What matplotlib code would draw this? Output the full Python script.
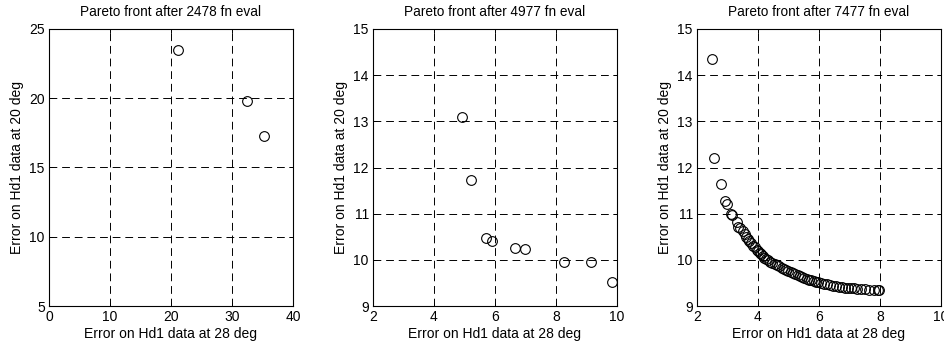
import numpy as np
import matplotlib.pyplot as plt

plt.rcParams['font.family'] = ['Liberation Sans', 'DejaVu Sans']
plt.rcParams['font.size'] = 10

# Pareto fronts at three stages of the optimisation
titles = ['Pareto front after 2478 fn eval',
          'Pareto front after 4977 fn eval',
          'Pareto front after 7477 fn eval']

x1 = [21.2, 32.5, 35.2]
y1 = [23.45, 19.8, 17.3]

x2 = [4.92, 5.2, 5.7, 5.9, 6.65, 6.97, 8.25, 9.15, 9.82]
y2 = [13.1, 11.72, 10.48, 10.4, 10.25, 10.23, 9.95, 9.95, 9.53]

x3 = [2.5, 2.57, 2.8, 2.92, 2.97, 3.1, 3.15, 3.3, 3.35, 3.4, 3.5, 3.57,
      3.62, 3.68, 3.72, 3.78, 3.85, 3.9, 3.96, 4.0, 4.05, 4.1, 4.15, 4.2,
      4.27, 4.33, 4.4, 4.47, 4.55, 4.62, 4.7, 4.78, 4.85, 4.93, 5.0, 5.08,
      5.15, 5.22, 5.3, 5.37, 5.45, 5.52, 5.6, 5.68, 5.75, 5.83, 5.9, 5.98,
      6.05, 6.15, 6.25, 6.35, 6.45, 6.55, 6.65, 6.75, 6.85, 6.95, 7.05,
      7.15, 7.25, 7.38, 7.5, 7.65, 7.8, 7.92, 7.98]
y3 = [14.35, 12.2, 11.65, 11.27, 11.22, 11.0, 10.98, 10.83, 10.72, 10.7,
      10.62, 10.56, 10.5, 10.45, 10.4, 10.37, 10.31, 10.27, 10.22, 10.19,
      10.15, 10.12, 10.08, 10.05, 10.02, 9.99, 9.96, 9.93, 9.91, 9.88,
      9.86, 9.83, 9.81, 9.78, 9.76, 9.73, 9.71, 9.69, 9.67, 9.65, 9.63,
      9.61, 9.59, 9.57, 9.56, 9.54, 9.53, 9.51, 9.5, 9.48, 9.47, 9.45,
      9.44, 9.43, 9.42, 9.41, 9.4, 9.39, 9.38, 9.38, 9.37, 9.36, 9.36,
      9.35, 9.35, 9.34, 9.34]

xs = [x1, x2, x3]
ys = [y1, y2, y3]
xlims = [(0, 40), (2, 10), (2, 10)]
ylims = [(5, 25), (9, 15), (9, 15)]
xticks = [[0, 10, 20, 30, 40], [2, 4, 6, 8, 10], [2, 4, 6, 8, 10]]
yticks = [[5, 10, 15, 20, 25], [9, 10, 11, 12, 13, 14, 15], [9, 10, 11, 12, 13, 14, 15]]

fig = plt.figure(figsize=(9.45, 3.45), dpi=100)
lefts = [49 / 945, 373 / 945, 697 / 945]

for i in range(3):
    ax = fig.add_axes([lefts[i], 39 / 345, 244 / 945, 277 / 345])
    ax.plot(xs[i], ys[i], 'o', mfc='none', mec='black', ms=7, mew=0.8)
    ax.set_xlim(xlims[i])
    ax.set_ylim(ylims[i])
    ax.set_xticks(xticks[i])
    ax.set_yticks(yticks[i])
    ax.grid(True, color='black', linestyle=(0, (8, 5)), linewidth=0.7)
    ax.tick_params(direction='in', top=True, right=True, length=3, width=0.7)
    ax.tick_params(axis='x', pad=3)
    ax.tick_params(axis='y', pad=3)
    for s in ax.spines.values():
        s.set_linewidth(0.8)
    ax.set_title(titles[i], fontsize=9.8, pad=9)
    ax.set_xlabel('Error on Hd1 data at 28 deg', labelpad=2)
    ax.set_ylabel('Error on Hd1 data at 20 deg', labelpad=4)

fig.savefig('out.png', dpi=100)
